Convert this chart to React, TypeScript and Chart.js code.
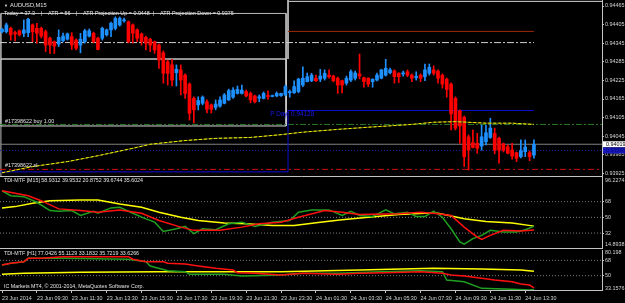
import React, { useEffect, useRef } from 'react';
import { Chart, registerables } from 'chart.js';

Chart.register(...registerables);

// ---------------- data ----------------
const SYMBOL = 'AUDUSD,M15';
const INFO_ITEMS = ['Today = 37.3', 'ATR = 56', 'ATR Projection Up = 0.9448', 'ATR Projection Down = 0.9375'];
const ORDER_BUY_LABEL = '#17398622 buy 1.00';
const ORDER_SL_LABEL = '#17398622 sl';
const COPYRIGHT = 'IC Markets MT4, \u00a9 2001-2014, MetaQuotes Software Corp.';

const OPEN = [0.94382,0.94382,0.94393,0.94379,0.94385,0.94377,0.94379,0.94404,0.94393,0.94393,
0.94382,0.94361,0.94350,0.94342,0.94353,0.94358,0.94366,0.94355,0.94339,0.94350,
0.94368,0.94377,0.94361,0.94361,0.94372,0.94388,0.94393,0.94404,0.94417,0.94414,
0.94404,0.94388,0.94375,0.94364,0.94358,0.94350,0.94339,0.94314,0.94285,0.94275,
0.94250,0.94259,0.94242,0.94213,0.94167,0.94146,0.94151,0.94156,0.94146,0.94138,
0.94142,0.94151,0.94162,0.94171,0.94183,0.94183,0.94189,0.94183,0.94175,0.94168,
0.94167,0.94176,0.94173,0.94175,0.94176,0.94178,0.94185,0.94185,0.94189,0.94210,
0.94221,0.94224,0.94232,0.94229,0.94232,0.94242,0.94239,0.94232,0.94224,0.94216,
0.94226,0.94232,0.94246,0.94234,0.94232,0.94221,0.94226,0.94232,0.94242,0.94250,
0.94256,0.94248,0.94246,0.94253,0.94242,0.94234,0.94242,0.94237,0.94248,0.94259,
0.94255,0.94242,0.94229,0.94213,0.94167,0.94127,0.94106,0.94043,0.94024,0.94022,
0.94013,0.94027,0.94041,0.94054,0.94038,0.94020,0.94011,0.94000,0.93992,0.93979,
0.93995,0.93992,0.93984];
const HIGH = [0.94394,0.94410,0.94397,0.94384,0.94388,0.94420,0.94425,0.94407,0.94409,0.94397,
0.94388,0.94365,0.94352,0.94388,0.94378,0.94378,0.94379,0.94359,0.94377,0.94390,
0.94391,0.94381,0.94365,0.94397,0.94391,0.94413,0.94430,0.94430,0.94426,0.94417,
0.94407,0.94391,0.94378,0.94368,0.94361,0.94352,0.94342,0.94320,0.94291,0.94293,
0.94275,0.94275,0.94246,0.94217,0.94172,0.94172,0.94175,0.94162,0.94149,0.94162,
0.94172,0.94183,0.94197,0.94202,0.94207,0.94210,0.94194,0.94188,0.94178,0.94178,
0.94188,0.94191,0.94178,0.94188,0.94184,0.94210,0.94194,0.94224,0.94232,0.94269,
0.94249,0.94248,0.94242,0.94261,0.94259,0.94259,0.94242,0.94236,0.94226,0.94239,
0.94259,0.94255,0.94310,0.94236,0.94234,0.94230,0.94249,0.94261,0.94293,0.94265,
0.94259,0.94250,0.94255,0.94259,0.94246,0.94253,0.94246,0.94278,0.94278,0.94272,
0.94259,0.94246,0.94233,0.94217,0.94172,0.94130,0.94110,0.94049,0.94065,0.94054,
0.94081,0.94081,0.94103,0.94071,0.94042,0.94023,0.94017,0.94022,0.93994,0.94033,
0.94033,0.93997,0.94033];
const LOW = [0.94378,0.94378,0.94355,0.94352,0.94368,0.94366,0.94366,0.94350,0.94345,0.94362,
0.94318,0.94312,0.94312,0.94334,0.94349,0.94355,0.94325,0.94323,0.94314,0.94345,
0.94365,0.94346,0.94323,0.94355,0.94368,0.94366,0.94388,0.94400,0.94413,0.94346,
0.94345,0.94350,0.94339,0.94323,0.94318,0.94312,0.94264,0.94216,0.94210,0.94207,
0.94207,0.94178,0.94167,0.94097,0.94088,0.94130,0.94146,0.94120,0.94120,0.94130,
0.94139,0.94149,0.94160,0.94167,0.94181,0.94181,0.94172,0.94153,0.94152,0.94156,
0.94165,0.94164,0.94172,0.94172,0.94173,0.94175,0.94171,0.94183,0.94185,0.94205,
0.94220,0.94221,0.94221,0.94221,0.94226,0.94232,0.94220,0.94183,0.94185,0.94210,
0.94221,0.94226,0.94230,0.94203,0.94205,0.94203,0.94223,0.94230,0.94239,0.94246,
0.94216,0.94218,0.94239,0.94237,0.94221,0.94226,0.94221,0.94224,0.94242,0.94242,
0.94216,0.94200,0.94171,0.94065,0.94065,0.94022,0.93947,0.93936,0.94007,0.93990,
0.94000,0.94017,0.94038,0.93988,0.93958,0.93994,0.93988,0.93971,0.93963,0.93975,
0.93979,0.93966,0.93974];
const CLOSE = [0.94390,0.94404,0.94372,0.94375,0.94372,0.94388,0.94422,0.94382,0.94377,0.94368,
0.94339,0.94339,0.94336,0.94364,0.94368,0.94375,0.94339,0.94329,0.94358,0.94385,
0.94385,0.94350,0.94325,0.94393,0.94388,0.94409,0.94425,0.94425,0.94418,0.94350,
0.94377,0.94361,0.94350,0.94345,0.94339,0.94323,0.94291,0.94248,0.94248,0.94226,
0.94261,0.94226,0.94183,0.94119,0.94130,0.94160,0.94171,0.94132,0.94132,0.94149,
0.94162,0.94178,0.94192,0.94194,0.94196,0.94194,0.94175,0.94162,0.94156,0.94172,
0.94183,0.94173,0.94175,0.94183,0.94183,0.94205,0.94189,0.94205,0.94229,0.94232,
0.94237,0.94242,0.94224,0.94239,0.94248,0.94237,0.94224,0.94210,0.94210,0.94232,
0.94253,0.94249,0.94239,0.94221,0.94213,0.94229,0.94242,0.94259,0.94264,0.94259,
0.94237,0.94237,0.94249,0.94242,0.94232,0.94238,0.94232,0.94259,0.94267,0.94248,
0.94232,0.94213,0.94196,0.94117,0.94071,0.94078,0.93979,0.94000,0.94009,0.94006,
0.94043,0.94056,0.94071,0.94000,0.94000,0.94000,0.93990,0.93981,0.93974,0.93998,
0.94010,0.93979,0.94019];

// moving average (bar index / price)
const MA_INDEX = [0,7,15,22,30,34,42,49,57,64,69,77,84,94,99,104,111,117,122];
const MA_VALUE = [0.93927,0.93947,0.93963,0.93982,0.94006,0.94019,0.94031,0.94038,0.94041,0.94050,0.94058,0.94067,0.94074,0.94083,0.94090,0.94092,0.94087,0.94087,0.94083];

const PRICE_TICKS = [0.93925,0.93985,0.94045,0.94105,0.94165,0.94225,0.94285,0.94345,0.94405,0.94465];
const PRICE_MIN = 0.939166;
const PRICE_MAX = 0.944844;

const BID = 0.94019;
const BUY_LEVEL = 0.94083;
const SL_LEVEL = 0.93938;
const DOT_LEVEL = 0.93999;
const BROWN_LEVEL = 0.94383;
const WHITE_DASH_LEVEL = 0.94347;
const PIVOT_PREV = 0.93930;
const PIVOT_DAY = 0.94128;
const BOX_TOP = 0.94441;
const BOX_MID = 0.94294;
const BOX_BOTTOM = 0.94078;
const TODAY_TOP = 0.94480;
const DAY_BREAK = 65.6;      // bar index of the day change (24 Jun 00:00)
const BOX_END = 65.15;
const BOX_START = -0.25;
const PIVOT_LABEL_AT = 61.5;

const TIME_LABELS = ['23 Jun 2014','23 Jun 09:30','23 Jun 11:30','23 Jun 13:30','23 Jun 15:30','23 Jun 17:30','23 Jun 19:30','23 Jun 21:30','23 Jun 23:30','24 Jun 01:30','24 Jun 03:30','24 Jun 05:30','24 Jun 07:30','24 Jun 09:30','24 Jun 11:30','24 Jun 13:30'];
const BARS_PER_LABEL = 8;

// TDI M15
const M15_TITLE = 'TDI-MTF [M15] 58.9312 39.9532 20.8752 39.6744 35.6024';
const M15_RANGE = [14.8938, 96.2274];
const M15_RED_X = [0,6,9,13,18,22,27,32,36,41,44,50,55,59,64,68,74,78,82,91,96,100,103,106,109,110,112,115,119,122];
const M15_RED_Y = [80.5,74.8,69.1,59.7,57.8,55.9,58.5,54.7,46.4,38.8,35.1,35.1,38.8,42.6,44.5,50.2,57.8,55.9,53.2,54.0,55.9,54.0,52.1,38.8,27.5,24.8,29.4,35.1,34.4,35.6];
const M15_GREEN_X = [0,2,5,8,11,13,16,18,21,22,25,27,30,33,35,37,40,42,44,46,49,52,55,58,62,66,68,71,75,78,80,82,85,88,90,93,95,97,99,101,103,105,106,108,110,112,115,118,120,122];
const M15_GREEN_Y = [80.5,74.8,73.7,67.3,57.8,57.0,57.8,52.1,57.0,54.7,60.8,61.5,54.7,48.3,44.5,33.9,36.9,39.6,31.3,36.9,35.8,42.6,44.5,39.6,44.5,46.4,55.9,58.5,58.5,52.1,57.0,52.1,51.0,58.5,54.0,55.9,51.0,51.0,57.0,50.2,36.9,21.8,19.2,25.6,29.4,35.1,33.2,33.2,35.8,39.67];
const M15_YEL_X = [0,3,7,11,18,22,27,32,36,41,45,51,56,62,67,73,78,84,91,97,100,106,111,117,122];
const M15_YEL_Y = [60.8,62.3,66.1,69.1,69.9,69.9,65.4,61.5,55.9,50.2,46.4,43.4,42.6,40.7,40.7,44.5,47.2,50.2,53.2,54.7,54.7,48.3,45.3,43.4,39.95];

// TDI H1
const H1_TITLE = 'TDI-MTF [H1] 77.0426 55.1129 33.1832 35.7219 33.6266';
const H1_RANGE = [33.1576, 80.198];
const H1_RED_X = [0,2,5,6,9,14,29,30,33,37,38,42,45,49,53,54,58,64,69,77,82,88,96,101,103,106,110,113,117,119,121,122];
const H1_RED_Y = [62.5,64.6,66.4,70.4,70.4,72.3,72.3,69.3,66.4,66.4,64.6,63.7,61.4,58.7,56.7,53.5,52.8,50.8,52.8,51.6,52.8,53.5,54.7,52.8,50.8,49.6,46.9,44.9,42.9,40.2,39.0,35.72];
const H1_GREEN_X = [0,2,5,6,9,14,29,33,34,38,42,43,51,55,64,69,77,87,96,101,102,106,110,117,121,122];
const H1_GREEN_Y = [62.5,64.6,66.4,70.4,70.4,70.4,69.3,66.4,61.4,55.8,54.7,51.6,51.6,49.6,50.8,52.8,52.8,54.7,55.8,54.7,44.9,42.9,35.1,33.96,33.2,33.63];
const H1_YEL_X = [0,5,18,36,64,82,99,110,119,122];
const H1_YEL_Y = [51.6,52.8,53.96,54.7,54.7,56.7,58.7,57.85,56.7,55.11];

const TDI_LEVELS = [32, 50, 68];

// ---------------- styling / layout ----------------
const W = 625;
const AXIS_W = 23;
const X_MIN = -0.46;
const X_MAX = 137.61;
const FONT = '"Liberation Sans", Arial, sans-serif';
const TEXT = '#e4e4e4';
const AXIS_TEXT = '#d4d4d4';
const AXIS_LINE = '#c4c4c4';
const UP = '#1e90ff';
const DOWN = '#ff0000';

Chart.defaults.font.family = FONT;
Chart.defaults.font.size = 5.4;

const zip = (xs, ys) => xs.map((x, i) => [x, ys[i]]);

const path = (pts, color, opts = {}) => ({
  type: 'line',
  data: pts.map(([x, y]) => ({ x, y })),
  borderColor: color,
  backgroundColor: color,
  borderWidth: 1,
  pointRadius: 0,
  pointHoverRadius: 0,
  fill: false,
  tension: 0,
  ...opts,
});

function rightAxis(min, max, ticks, fmt) {
  return {
    position: 'right',
    min,
    max,
    beginAtZero: false,
    afterBuildTicks: (s) => { s.ticks = ticks.map((v) => ({ value: v })); },
    afterFit: (s) => { s.width = AXIS_W; s.paddingTop = 0; s.paddingBottom = 0; },
    ticks: { color: AXIS_TEXT, font: { size: 5.4, family: FONT }, padding: 1, autoSkip: false, callback: fmt },
    grid: { display: true, drawOnChartArea: false, drawTicks: true, tickLength: 2, color: AXIS_LINE },
    border: { display: true, color: AXIS_LINE, width: 1 },
  };
}

const hiddenX = () => ({
  type: 'linear',
  min: X_MIN,
  max: X_MAX,
  offset: false,
  display: true,
  ticks: { display: false },
  grid: { display: false, drawTicks: false, offset: false },
  border: { display: true, color: AXIS_LINE, width: 1 },
  afterFit: (s) => { s.height = 0; s.paddingLeft = 0; s.paddingRight = 0; },
});

const timeX = () => ({
  type: 'linear',
  min: X_MIN,
  max: X_MAX,
  offset: false,
  afterBuildTicks: (s) => { s.ticks = TIME_LABELS.map((_, k) => ({ value: k * BARS_PER_LABEL })); },
  afterFit: (s) => { s.height = 13; s.paddingLeft = 0; s.paddingRight = 0; },
  ticks: {
    align: 'start', maxRotation: 0, minRotation: 0, autoSkip: false, padding: 2,
    color: AXIS_TEXT, font: { size: 5.4, family: FONT },
    callback: (_v, i) => TIME_LABELS[i] || '',
  },
  grid: { display: true, drawOnChartArea: false, drawTicks: true, tickLength: 3, color: AXIS_LINE, offset: false },
  border: { display: true, color: AXIS_LINE, width: 1 },
});

const baseOptions = (padding) => ({
  responsive: false,
  maintainAspectRatio: false,
  animation: false,
  devicePixelRatio: 1,
  events: [],
  layout: { autoPadding: false, padding },
  plugins: { legend: { display: false }, tooltip: { enabled: false } },
});

function mainConfig() {
  const bars = OPEN.map((_, i) => i);
  const last = OPEN.length - 1;
  const colors = CLOSE.map((c, i) => (c >= OPEN[i] ? UP : DOWN));
  const datasets = [
    path(zip(MA_INDEX, MA_VALUE), '#f2f200', { borderDash: [3, 2] }),
    path(zip(MA_INDEX, MA_VALUE), '#6a6a08'),
    {
      type: 'bar',
      data: bars.map((i) => ({ x: i, y: [OPEN[i], CLOSE[i]] })),
      backgroundColor: colors,
      borderWidth: 0,
      barThickness: 3,
      minBarLength: 1,
      grouped: false,
    },
    {
      type: 'bar',
      data: bars.map((i) => ({ x: i, y: [LOW[i], HIGH[i]] })),
      backgroundColor: colors,
      borderWidth: 0,
      barThickness: 1,
      grouped: false,
    },
    path([[X_MIN, WHITE_DASH_LEVEL], [last, WHITE_DASH_LEVEL]], '#cfcfcf', { borderDash: [7, 2, 2, 2] }),
    path([[DAY_BREAK, BROWN_LEVEL], [last, BROWN_LEVEL]], '#9a2a08'),
    path([[X_MIN, PIVOT_PREV], [DAY_BREAK, PIVOT_PREV], [DAY_BREAK, PIVOT_DAY], [last, PIVOT_DAY]], '#0c0cd0'),
    path([[X_MIN, BUY_LEVEL], [X_MAX, BUY_LEVEL]], '#2a7a2a', { borderDash: [6, 2, 2, 2] }),
    path([[X_MIN, BID], [X_MAX, BID]], '#808080'),
    path([[X_MIN, DOT_LEVEL], [X_MAX, DOT_LEVEL]], '#2424a8', { borderDash: [1, 2] }),
    path([[X_MIN, SL_LEVEL], [X_MAX, SL_LEVEL]], '#cc1010', { borderDash: [6, 3, 2, 3] }),
    path([[BOX_START, BOX_TOP], [BOX_END, BOX_TOP], [BOX_END, BOX_MID], [BOX_START, BOX_MID], [BOX_START, BOX_TOP]], '#bdbdbd'),
    path([[BOX_START, BOX_MID], [BOX_END, BOX_MID], [BOX_END, BOX_BOTTOM], [BOX_START, BOX_BOTTOM], [BOX_START, BOX_MID]], '#d8d8d8'),
    path([[DAY_BREAK, PRICE_MAX], [DAY_BREAK, BOX_MID]], '#bdbdbd'),
    path([[DAY_BREAK, TODAY_TOP], [X_MAX, TODAY_TOP]], '#d8d8d8'),
    path([[BOX_START, PRICE_MIN], [BOX_START, BOX_TOP]], '#bdbdbd'),
  ];

  const overlay = {
    id: 'mainOverlay',
    afterDraw(chart) {
      const { ctx, chartArea, scales } = chart;
      const xs = scales.x;
      const ys = scales.y;
      ctx.save();
      ctx.textBaseline = 'middle';
      ctx.textAlign = 'left';
      ctx.fillStyle = TEXT;
      ctx.font = `4px ${FONT}`;
      ctx.fillText('\u25bc', 4, 5.5);
      ctx.font = `5.7px ${FONT}`;
      ctx.fillText(SYMBOL, 10, 5);
      ctx.font = `5.4px ${FONT}`;
      const infoX = [4, 48, 83, 160];
      const sepX = [41, 76, 153];
      INFO_ITEMS.forEach((t, i) => ctx.fillText(t, infoX[i], 13.3));
      sepX.forEach((x) => ctx.fillText('|', x, 13.3));
      ctx.fillText(ORDER_BUY_LABEL, 5, ys.getPixelForValue(BUY_LEVEL) - 2.5);
      ctx.fillText(ORDER_SL_LABEL, 5, ys.getPixelForValue(SL_LEVEL) - 3.5);
      ctx.fillStyle = '#1a1af0';
      ctx.font = `6.4px ${FONT}`;
      ctx.fillText(`P Day: ${PIVOT_DAY.toFixed(5)}`, xs.getPixelForValue(PIVOT_LABEL_AT), ys.getPixelForValue(PIVOT_DAY) + 4);
      ctx.font = `5.4px ${FONT}`;
      const bx = chartArea.right + 1;
      const by = ys.getPixelForValue(BID);
      ctx.fillStyle = '#ffffff';
      ctx.fillRect(bx, by - 3, chart.width - bx, 6);
      ctx.fillStyle = '#000000';
      ctx.fillText(BID.toFixed(5), bx + 3, by + 0.3);
      const ny = ys.getPixelForValue(DOT_LEVEL);
      ctx.fillStyle = '#1818c0';
      ctx.fillRect(bx, ny - 3, chart.width - bx, 6);
      ctx.fillStyle = '#0a0a70';
      ctx.fillText(DOT_LEVEL.toFixed(5), bx + 3, ny + 0.3);
      ctx.restore();
    },
  };

  return {
    type: 'bar',
    data: { datasets },
    options: {
      ...baseOptions({ left: 0, right: 0, top: 0, bottom: 4 }),
      scales: {
        x: hiddenX(),
        y: rightAxis(PRICE_MIN, PRICE_MAX, PRICE_TICKS, (v) => Number(v).toFixed(5)),
      },
    },
    plugins: [overlay],
  };
}

function panelConfig(p) {
  const levels = TDI_LEVELS.filter((v) => v > p.range[0] && v < p.range[1]);
  const datasets = [
    path(zip(p.redX, p.redY), '#ff1010', { borderWidth: 1.5 }),
    path(zip(p.greenX, p.greenY), '#20a020', { borderWidth: 1.5 }),
    path(zip(p.yelX, p.yelY), '#ffff00', { borderWidth: 1.5 }),
    ...levels.map((v) => path([[X_MIN, v], [X_MAX, v]], '#7a7a7a', { borderDash: [1, 2] })),
  ];
  const texts = {
    id: 'panelText',
    afterDraw(chart) {
      const { ctx, chartArea } = chart;
      ctx.save();
      ctx.textBaseline = 'middle';
      ctx.textAlign = 'left';
      ctx.font = `5.3px ${FONT}`;
      ctx.fillStyle = TEXT;
      ctx.fillText(p.title, 4, chartArea.top + 4);
      if (p.footer) ctx.fillText(p.footer, 4, chartArea.bottom - 3);
      ctx.font = `5.4px ${FONT}`;
      ctx.fillStyle = AXIS_TEXT;
      ctx.fillText(String(p.range[1]), chartArea.right + 3, chartArea.top + p.topOff);
      ctx.fillText(String(p.range[0]), chartArea.right + 3, chartArea.bottom - p.botOff);
      ctx.restore();
    },
  };
  return {
    type: 'line',
    data: { datasets },
    options: {
      ...baseOptions(p.padding),
      scales: {
        x: p.withTime ? timeX() : hiddenX(),
        y: rightAxis(p.range[0], p.range[1], levels, (v) => String(v)),
      },
    },
    plugins: [texts],
  };
}

export default function App() {
  const mainRef = useRef(null);
  const m15Ref = useRef(null);
  const h1Ref = useRef(null);

  useEffect(() => {
    document.body.style.margin = '0';
    document.body.style.background = '#000';
    document.body.style.overflow = 'hidden';
    const charts = [
      new Chart(mainRef.current, mainConfig()),
      new Chart(m15Ref.current, panelConfig({
        title: M15_TITLE, range: M15_RANGE,
        redX: M15_RED_X, redY: M15_RED_Y, greenX: M15_GREEN_X, greenY: M15_GREEN_Y, yelX: M15_YEL_X, yelY: M15_YEL_Y,
        withTime: false, padding: { left: 0, right: 0, top: 0, bottom: 2 }, topOff: 3.7, botOff: 3,
      })),
      new Chart(h1Ref.current, panelConfig({
        title: H1_TITLE, range: H1_RANGE, footer: COPYRIGHT,
        redX: H1_RED_X, redY: H1_RED_Y, greenX: H1_GREEN_X, greenY: H1_GREEN_Y, yelX: H1_YEL_X, yelY: H1_YEL_Y,
        withTime: true, padding: { left: 0, right: 0, top: 1, bottom: 0 }, topOff: 2.5, botOff: 1.5,
      })),
    ];
    return () => charts.forEach((c) => c.destroy());
  }, []);

  const abs = (top) => ({ position: 'absolute', left: 0, top });
  return (
    <div style={{ position: 'relative', width: W, height: 303, background: '#000', overflow: 'hidden' }}>
      <canvas ref={mainRef} width={W} height={180} style={abs(0)} />
      <canvas ref={m15Ref} width={W} height={73} style={abs(177)} />
      <canvas ref={h1Ref} width={W} height={54} style={abs(249)} />
    </div>
  );
}
